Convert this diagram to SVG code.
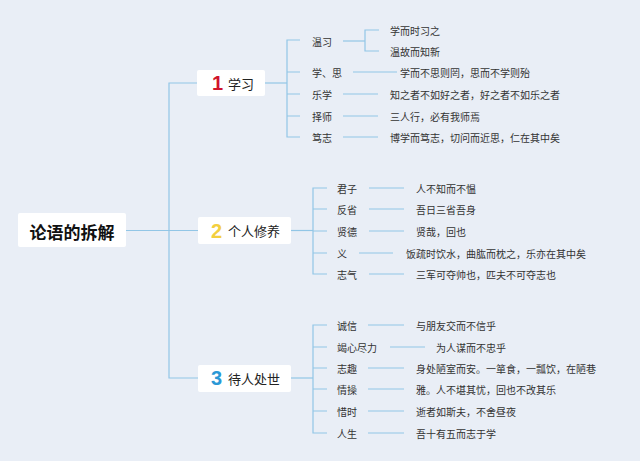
<svg xmlns="http://www.w3.org/2000/svg" width="640" height="461" viewBox="0 0 640 461">
<style>
.bg{fill:#e9eef6}
.box{fill:#ffffff}
.ln{fill:none;stroke:#92c6e6;stroke-width:1.2}
text{font-family:"Noto Sans CJK SC","Noto Sans",sans-serif;fill:#333;dominant-baseline:central}
.root{font-size:17px;font-weight:bold;fill:#111;text-anchor:middle}
.cat{font-size:13px;fill:#222}
.num{font-size:20px;font-weight:bold;font-family:"Liberation Sans",Arial,sans-serif}
.lbl{font-size:10px}
.leaf{font-size:10px}
</style>
<rect class="bg" x="0" y="0" width="640" height="461"/>
<g id="connectors">
<path class="ln" d="M126 230.5H198"/>
<path class="ln" d="M197 83H169V378H198"/>
<path class="ln" d="M265 83H287"/>
<path class="ln" d="M300 40H287V137H300M287 72H300M287 94H300M287 116H300"/>
<path class="ln" d="M343 41H365"/>
<path class="ln" d="M379 30H365V51H379"/>
<path class="ln" d="M353 72H397"/>
<path class="ln" d="M343 94H378"/>
<path class="ln" d="M343 116H378"/>
<path class="ln" d="M343 137H378"/>
<path class="ln" d="M291 230.5H313"/>
<path class="ln" d="M327 188H313V274H327M313 209H327M313 231H327M313 253H327"/>
<path class="ln" d="M369 188H404"/>
<path class="ln" d="M369 209H404"/>
<path class="ln" d="M369 231H404"/>
<path class="ln" d="M359 253H393"/>
<path class="ln" d="M369 274H404"/>
<path class="ln" d="M291 378H313"/>
<path class="ln" d="M327 325H313V433H327M313 347H327M313 368H327M313 389H327M313 411H327"/>
<path class="ln" d="M368 325H404"/>
<path class="ln" d="M390 347H425"/>
<path class="ln" d="M368 368H404"/>
<path class="ln" d="M368 389H404"/>
<path class="ln" d="M368 411H404"/>
<path class="ln" d="M368 433H404"/>
</g>
<g id="root">
<rect class="box" x="18" y="213" width="108" height="34" rx="2"/>
<text class="root" x="72" y="231">论语的拆解</text>
</g>
<g id="cat1">
<rect class="box" x="197" y="70" width="68" height="26" rx="2"/>
<text class="num" x="212" y="83" fill="#d0142c" style="fill:#d0142c">1</text>
<text class="cat" x="228" y="83">学习</text>
</g>
<g id="cat2">
<rect class="box" x="198" y="217" width="93" height="27" rx="2"/>
<text class="num" x="211" y="230.5" style="fill:#f3cf3f">2</text>
<text class="cat" x="228" y="230.5">个人修养</text>
</g>
<g id="cat3">
<rect class="box" x="198" y="365" width="93" height="27" rx="2"/>
<text class="num" x="211" y="378" style="fill:#2a98d6">3</text>
<text class="cat" x="228" y="378">待人处世</text>
</g>
<g id="c1-1"><text class="lbl" x="312" y="41">温习</text></g>
<g id="l1-1a"><text class="leaf" x="390" y="30">学而时习之</text></g>
<g id="l1-1b"><text class="leaf" x="390" y="51">温故而知新</text></g>
<g id="c1-2"><text class="lbl" x="312" y="72">学、思</text></g>
<g id="l1-2"><text class="leaf" x="400" y="72">学而不思则罔，思而不学则殆</text></g>
<g id="c1-3"><text class="lbl" x="312" y="94">乐学</text></g>
<g id="l1-3"><text class="leaf" x="390" y="94">知之者不如好之者，好之者不如乐之者</text></g>
<g id="c1-4"><text class="lbl" x="312" y="116">择师</text></g>
<g id="l1-4"><text class="leaf" x="390" y="116">三人行，必有我师焉</text></g>
<g id="c1-5"><text class="lbl" x="312" y="137">笃志</text></g>
<g id="l1-5"><text class="leaf" x="390" y="137">博学而笃志，切问而近思，仁在其中矣</text></g>
<g id="c2-1"><text class="lbl" x="337" y="188">君子</text></g>
<g id="l2-1"><text class="leaf" x="416" y="188">人不知而不愠</text></g>
<g id="c2-2"><text class="lbl" x="337" y="209">反省</text></g>
<g id="l2-2"><text class="leaf" x="416" y="209">吾日三省吾身</text></g>
<g id="c2-3"><text class="lbl" x="337" y="231">贤德</text></g>
<g id="l2-3"><text class="leaf" x="416" y="231">贤哉，回也</text></g>
<g id="c2-4"><text class="lbl" x="337" y="253">义</text></g>
<g id="l2-4"><text class="leaf" x="406" y="253">饭疏时饮水，曲肱而枕之，乐亦在其中矣</text></g>
<g id="c2-5"><text class="lbl" x="337" y="274">志气</text></g>
<g id="l2-5"><text class="leaf" x="416" y="274">三军可夺帅也，匹夫不可夺志也</text></g>
<g id="c3-1"><text class="lbl" x="337" y="325">诚信</text></g>
<g id="l3-1"><text class="leaf" x="416" y="325">与朋友交而不信乎</text></g>
<g id="c3-2"><text class="lbl" x="337" y="347">竭心尽力</text></g>
<g id="l3-2"><text class="leaf" x="436" y="347">为人谋而不忠乎</text></g>
<g id="c3-3"><text class="lbl" x="337" y="368">志趣</text></g>
<g id="l3-3"><text class="leaf" x="416" y="368">身处陋室而安。一箪食，一瓢饮，在陋巷</text></g>
<g id="c3-4"><text class="lbl" x="337" y="389">情操</text></g>
<g id="l3-4"><text class="leaf" x="416" y="389">雅。人不堪其忧，回也不改其乐</text></g>
<g id="c3-5"><text class="lbl" x="337" y="411">惜时</text></g>
<g id="l3-5"><text class="leaf" x="416" y="411">逝者如斯夫，不舍昼夜</text></g>
<g id="c3-6"><text class="lbl" x="337" y="433">人生</text></g>
<g id="l3-6"><text class="leaf" x="416" y="433">吾十有五而志于学</text></g>
</svg>
